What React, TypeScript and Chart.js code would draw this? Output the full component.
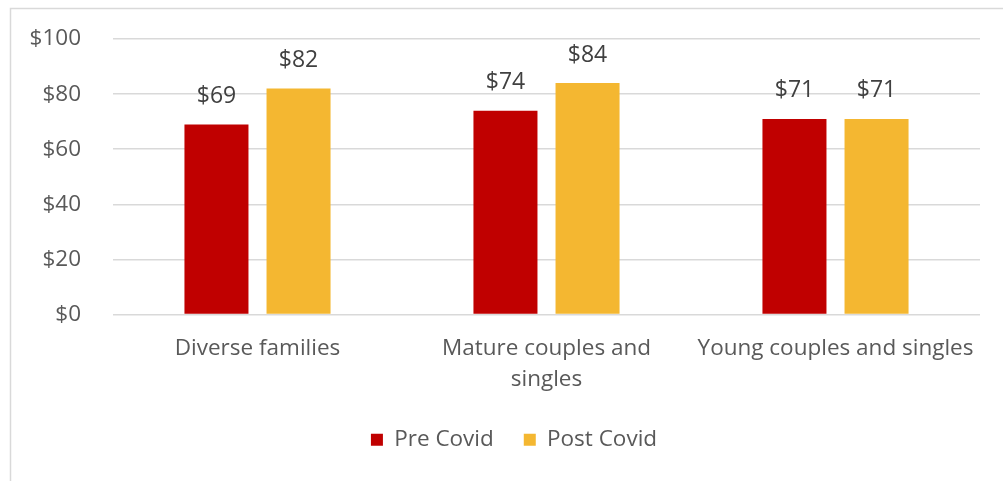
import React, { useEffect, useRef } from "react";
import { Chart, registerables } from "chart.js";

Chart.register(...registerables);

const categories: (string | string[])[] = [
  "Diverse families",
  ["Mature couples and", "singles"],
  "Young couples and singles",
];
const preCovid = [69, 74, 71];
const postCovid = [82, 84, 71];
const seriesNames = ["Pre Covid", "Post Covid"];
const yTicks = [0, 20, 40, 60, 80, 100];

const FONT = "'Open Sans', Lato, sans-serif";

const dataLabels = {
  id: "dataLabels",
  afterDatasetsDraw(chart: any) {
    const ctx = chart.ctx;
    ctx.save();
    ctx.font = `23px ${FONT}`;
    ctx.fillStyle = "#404040";
    ctx.textAlign = "center";
    ctx.textBaseline = "middle";
    chart.data.datasets.forEach((ds: any, i: number) => {
      const meta = chart.getDatasetMeta(i);
      meta.data.forEach((bar: any, j: number) => {
        ctx.fillText("$" + ds.data[j], bar.x, bar.y - 28);
      });
    });
    ctx.restore();
  },
};

const frame = {
  id: "frame",
  afterLayout(chart: any) {
    if (chart.legend) {
      chart.legend.left += 14;
      chart.legend.right += 14;
    }
  },
  beforeDraw(chart: any) {
    const ctx = chart.ctx;
    ctx.save();
    ctx.fillStyle = "#ffffff";
    ctx.fillRect(0, 0, chart.width, chart.height);
    ctx.strokeStyle = "#d9d9d9";
    ctx.lineWidth = 1.5;
    ctx.beginPath();
    ctx.moveTo(10.5, chart.height);
    ctx.lineTo(10.5, 8.5);
    ctx.lineTo(chart.width, 8.5);
    ctx.stroke();
    ctx.restore();
  },
};

export default function App() {
  const ref = useRef<HTMLCanvasElement | null>(null);
  useEffect(() => {
    document.body.style.margin = "0";
    const chart = new Chart(ref.current as HTMLCanvasElement, {
      type: "bar",
      data: {
        labels: categories,
        datasets: [
          {
            label: seriesNames[0],
            data: preCovid,
            backgroundColor: "#C00000",
            categoryPercentage: 0.568,
            barPercentage: 0.78,
          },
          {
            label: seriesNames[1],
            data: postCovid,
            backgroundColor: "#F4B731",
            categoryPercentage: 0.568,
            barPercentage: 0.78,
          },
        ],
      },
      options: {
        animation: false,
        responsive: false,
        maintainAspectRatio: false,
        layout: { padding: { left: 20, right: 23, top: 39, bottom: 20 } },
        scales: {
          x: {
            grid: { display: false, drawTicks: false },
            border: { display: false },
            ticks: {
              color: "#595959",
              font: { family: FONT, size: 22.5, lineHeight: 1.4 },
              padding: 18,
              maxRotation: 0,
              autoSkip: false,
            },
            afterFit(scale: any) {
              scale.height = 84;
            },
          },
          y: {
            min: 0,
            max: 100,
            afterBuildTicks(scale: any) {
              scale.ticks = yTicks.map((v) => ({ value: v }));
            },
            grid: { color: "#d9d9d9", lineWidth: 1.5, drawTicks: false },
            border: { display: false },
            ticks: {
              color: "#595959",
              font: { family: FONT, size: 22.5 },
              padding: 32,
              callback: (v: any) => "$" + v,
            },
            afterFit(scale: any) {
              scale.width = 93;
              scale.paddingTop = 10;
              scale.paddingBottom = 10;
            },
          },
        },
        plugins: {
          legend: {
            position: "bottom",
            labels: {
              color: "#595959",
              font: { family: FONT, size: 22.5 },
              boxWidth: 12,
              boxHeight: 12,
              padding: 30,
            },
          },
          tooltip: { enabled: false },
        },
      },
      plugins: [dataLabels, frame],
    });
    return () => chart.destroy();
  }, []);
  return (
    <div style={{ width: 1003, height: 481 }}>
      <canvas ref={ref} width={1003} height={481} style={{ display: "block" }} />
    </div>
  );
}
